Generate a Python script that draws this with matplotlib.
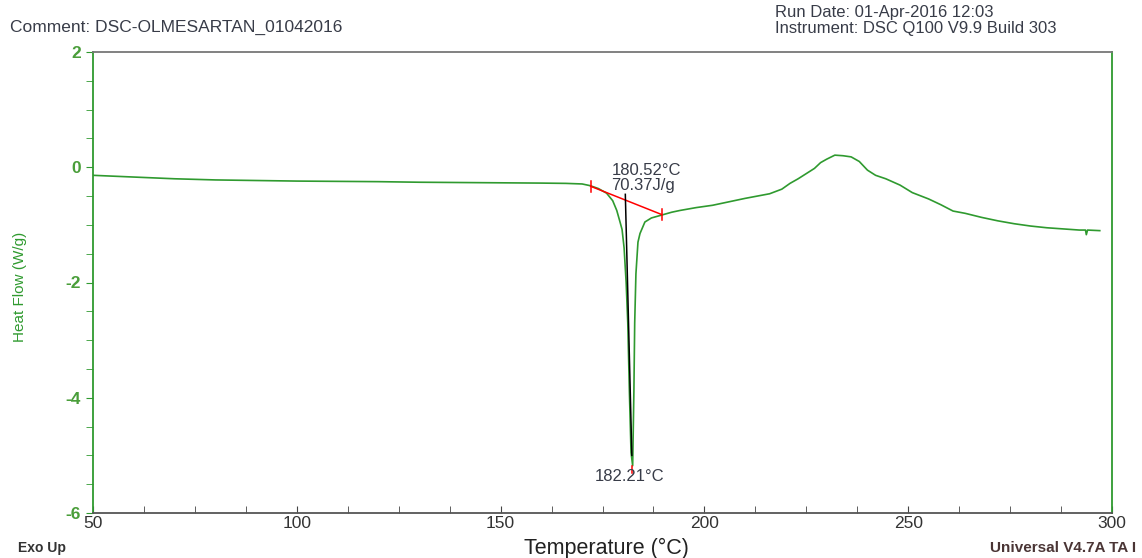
import matplotlib
matplotlib.use("Agg")
import matplotlib.pyplot as plt
from matplotlib.ticker import MultipleLocator

plt.rcParams['font.family'] = ['Liberation Sans', 'DejaVu Sans']
plt.rcParams['axes.unicode_minus'] = False

# DSC curve
temp = [50, 60, 70, 80, 90, 100, 110, 120, 130, 140, 150, 160, 166, 170, 172,
        174, 176, 177.5, 178.5, 179.3, 179.8, 180.3, 180.8, 181.2, 181.6, 182.0,
        182.4, 182.7, 182.9, 183.2, 183.7, 184.2, 185.4, 187, 189.5, 192, 194,
        198, 202, 206, 210, 213, 216, 219, 221, 223, 225, 227, 228.5, 230, 232,
        234, 236, 238, 240, 242, 244.5, 248, 251, 255, 258, 261, 264, 268, 272,
        276, 280, 284, 288, 292, 293.5, 293.7, 294, 297]
heat_flow = [-0.14, -0.17, -0.2, -0.22, -0.23, -0.24, -0.245, -0.25, -0.26, -0.265,
             -0.27, -0.275, -0.28, -0.29, -0.32, -0.37, -0.45, -0.58, -0.75, -0.95,
             -1.08, -1.4, -2.0, -2.7, -3.9, -4.95, -5.18, -3.9, -2.7, -1.85, -1.3,
             -1.15, -0.95, -0.88, -0.83, -0.78, -0.75, -0.7, -0.66, -0.6, -0.54,
             -0.5, -0.46, -0.38, -0.28, -0.2, -0.11, -0.02, 0.08, 0.14, 0.21, 0.2,
             0.18, 0.1, -0.05, -0.14, -0.2, -0.31, -0.44, -0.55, -0.65, -0.76,
             -0.8, -0.87, -0.93, -0.98, -1.02, -1.05, -1.07, -1.09, -1.09, -1.17,
             -1.09, -1.1]

# peak integration
onset = (172.1, -0.33)
endset = (189.5, -0.82)
peak_t, peak_hf = 182.3, -5.18
drop_top = (180.6, -0.47)
drop_bot = (182.2, -5.0)
onset_label = "180.52°C\n70.37J/g"
peak_label = "182.21°C"

green = '#2f9a2f'
txt = '#383c48'

fig = plt.figure(figsize=(11.42, 5.58), dpi=100)
ax = fig.add_axes([93/1142, 1 - 513/558, (1112 - 93)/1142, (513 - 52)/558])

ax.plot(temp, heat_flow, color=green, lw=1.2)
ax.plot([onset[0], endset[0]], [onset[1], endset[1]], color='red', lw=1.1)
for t, h in (onset, endset):
    ax.plot([t, t], [h - 0.1, h + 0.1], color='red', lw=1.1)
ax.plot([peak_t, peak_t], [peak_hf, peak_hf - 0.12], color='red', lw=1.1)
ax.plot([drop_top[0], drop_bot[0]], [drop_top[1], drop_bot[1]], color='black', lw=1.1)

ax.text(177.2, -0.19, onset_label, fontsize=12, color=txt, va='center', linespacing=0.95)
ax.text(181.7, -5.36, peak_label, fontsize=12, color=txt, ha='center', va='center')

ax.set_xlim(50, 300)
ax.set_ylim(-6, 2)
ax.xaxis.set_major_locator(MultipleLocator(50))
ax.xaxis.set_minor_locator(MultipleLocator(12.5))
ax.yaxis.set_major_locator(MultipleLocator(2))
ax.yaxis.set_minor_locator(MultipleLocator(0.5))
ax.tick_params(axis='x', which='both', direction='in', length=5, color='#444',
               labelsize=12.5, labelcolor='#333', pad=2)
ax.tick_params(axis='y', which='both', direction='out', length=5, color=green,
               labelsize=12.5, labelcolor='#4a9e3a')
for lab in ax.get_yticklabels():
    lab.set_fontweight('bold')

ax.spines['left'].set_color(green)
ax.spines['right'].set_color(green)
ax.spines['top'].set_color('#777')
ax.spines['bottom'].set_color('#555')
for s in ax.spines.values():
    s.set_linewidth(1.3)

fig.text(10/1142, 1 - 27/558, "Comment: DSC-OLMESARTAN_01042016", fontsize=12.5,
         color=txt, va='center')
fig.text(775/1142, 1 - 13/558, "Run Date: 01-Apr-2016 12:03", fontsize=12,
         color=txt, va='center')
fig.text(775/1142, 1 - 29/558, "Instrument: DSC Q100 V9.9 Build 303", fontsize=12,
         color=txt, va='center')
fig.text(20/1142, 1 - 287/558, "Heat Flow (W/g)", fontsize=11, color=green,
         rotation=90, ha='center', va='center')
fig.text(606/1142, 1 - 548/558, "Temperature (°C)", fontsize=15.5, color='#222',
         ha='center', va='center')
fig.text(18/1142, 1 - 548/558, "Exo Up", fontsize=10, fontweight='bold',
         color='#333', va='center')
fig.text(990/1142, 1 - 548/558, "Universal V4.7A TA I", fontsize=11,
         fontweight='bold', color='#4a3535', va='center')

fig.savefig("out.png", dpi=100)
